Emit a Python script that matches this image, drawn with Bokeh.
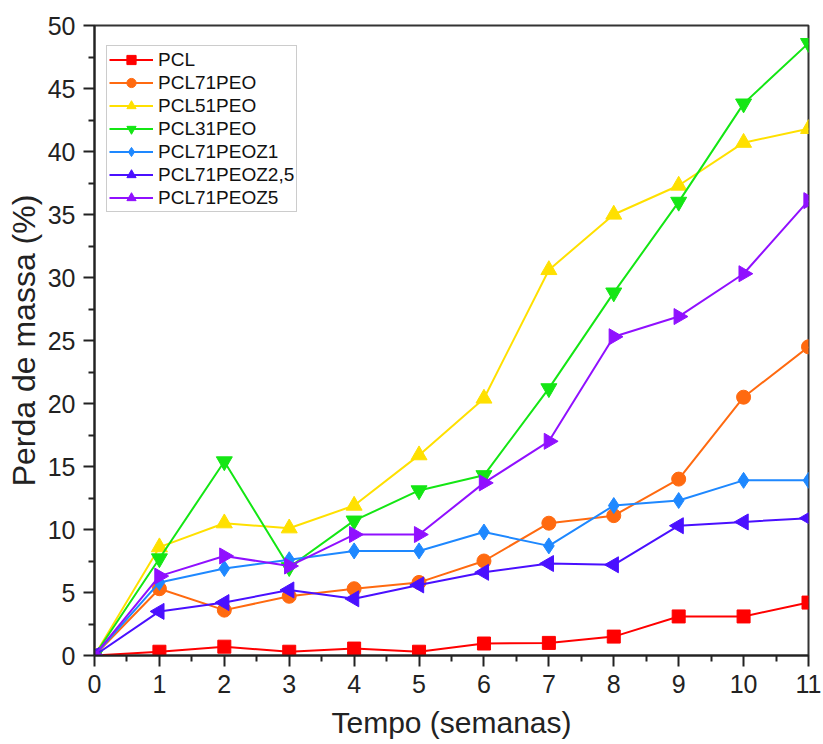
import numpy as np
from bokeh.plotting import figure
from bokeh.models import Range1d, FixedTicker, Legend, LegendItem
from bokeh.embed import file_html
from bokeh.resources import INLINE

weeks = [0, 1, 2, 3, 4, 5, 6, 7, 8, 9, 10, 11]
pcl = [0, 0.3, 0.7, 0.3, 0.55, 0.3, 0.95, 1.0, 1.5, 3.1, 3.1, 4.2]
pcl71peo = [0, 5.3, 3.6, 4.7, 5.3, 5.8, 7.5, 10.5, 11.1, 14.0, 20.5, 24.5]
pcl51peo = [0, 8.6, 10.5, 10.1, 11.9, 15.9, 20.4, 30.6, 35.0, 37.3, 40.7, 41.8]
pcl31peo = [0, 7.7, 15.4, 7.0, 10.7, 13.1, 14.3, 21.2, 28.8, 36.0, 43.8, 48.6]
pcl71peoz1 = [0, 5.8, 6.9, 7.6, 8.3, 8.3, 9.8, 8.7, 11.9, 12.3, 13.9, 13.9]
pcl71peoz25 = [0, 3.5, 4.2, 5.2, 4.5, 5.6, 6.6, 7.3, 7.2, 10.3, 10.6, 10.9]
pcl71peoz5 = [0, 6.3, 7.9, 7.1, 9.6, 9.6, 13.7, 17.0, 25.3, 26.9, 30.3, 36.1]

names = ["PCL", "PCL71PEO", "PCL51PEO", "PCL31PEO", "PCL71PEOZ1", "PCL71PEOZ2,5", "PCL71PEOZ5"]
series = [pcl, pcl71peo, pcl51peo, pcl31peo, pcl71peoz1, pcl71peoz25, pcl71peoz5]
colors = ["#ff0000", "#ff6a10", "#ffe000", "#14e614", "#1e88ff", "#4a10ff", "#9010ff"]
markers = ["square", "circle", "triangle", "inverted_triangle", "diamond", "triangle", "triangle"]
angles = [0, 0, 0, 0, 0, np.pi / 2, -np.pi / 2]
sizes = [13, 14, 16, 16, 16, 16, 16]

p = figure(width=823, height=744, output_backend="svg", toolbar_location=None,
           x_range=Range1d(0, 11), y_range=Range1d(0, 50),
           min_border_left=94, min_border_right=15, min_border_top=25, min_border_bottom=89)
p.grid.visible = False
p.outline_line_color = "#333333"
p.outline_line_width = 2
p.background_fill_color = "white"
p.border_fill_color = "white"

items = []
for name, ys, c, m, a, s in zip(names, series, colors, markers, angles, sizes):
    l = p.line(weeks, ys, line_color=c, line_width=2)
    sc = p.scatter(weeks, ys, marker=m, size=s, angle=a, fill_color=c, line_color=c)
    items.append(LegendItem(label=name, renderers=[l, sc]))

legend = Legend(items=items, location=(12, 443))
legend.label_text_font = "Liberation Sans"
legend.label_text_font_size = "19px"
legend.label_text_color = "#111111"
legend.border_line_color = "#999999"
legend.border_line_width = 1.5
legend.padding = 2
legend.spacing = 0
legend.label_height = 23
legend.glyph_height = 23
legend.glyph_width = 44
legend.label_standoff = 5
legend.label_width = 136
legend.margin = 0
p.add_layout(legend)

for ax in (p.xaxis[0], p.yaxis[0]):
    ax.axis_line_color = "#222222"
    ax.axis_line_width = 2
    ax.major_tick_line_color = "#222222"
    ax.minor_tick_line_color = "#222222"
    ax.major_tick_line_width = 2
    ax.minor_tick_line_width = 2
    ax.major_tick_out = 11
    ax.major_tick_in = 0
    ax.minor_tick_out = 6
    ax.minor_tick_in = 0
    ax.major_label_text_font = "Liberation Sans"
    ax.major_label_text_font_size = "25px"
    ax.major_label_text_color = "#222222"
    ax.axis_label_text_font = "Liberation Sans"
    ax.axis_label_text_font_style = "normal"
    ax.axis_label_text_color = "#222222"

p.xaxis.axis_label_text_font_size = "30px"
p.yaxis.axis_label_text_font_size = "32px"
p.xaxis.ticker = FixedTicker(ticks=weeks, minor_ticks=[i + 0.5 for i in range(11)])
p.yaxis.ticker = FixedTicker(ticks=list(range(0, 51, 5)), minor_ticks=[2.5 + 5 * i for i in range(10)])
p.xaxis.axis_label = "Tempo (semanas)"
p.yaxis.axis_label = "Perda de massa (%)"
p.xaxis.major_label_standoff = 8
p.yaxis.major_label_standoff = 8
p.xaxis.axis_label_standoff = 10
p.yaxis.axis_label_standoff = 3

open("out.html", "w").write(file_html(p, INLINE))
